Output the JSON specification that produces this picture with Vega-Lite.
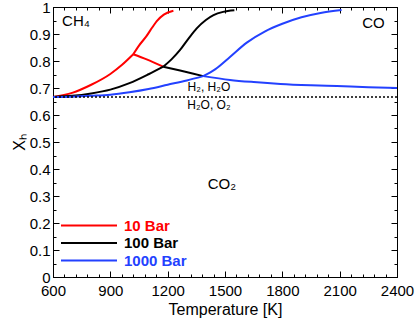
{
  "$schema": "https://vega.github.io/schema/vega-lite/v6.json",
  "width": 344,
  "height": 270,
  "autosize": {"type": "none"},
  "padding": {"left": 53, "top": 7, "right": 18, "bottom": 42},
  "background": "white",
  "config": {
    "view": {"stroke": "#000", "strokeWidth": 1},
    "font": "Liberation Sans",
    "axis": {
      "domainColor": "#000", "tickColor": "#000", "labelColor": "#000", "titleColor": "#000",
      "labelFont": "Liberation Sans", "titleFont": "Liberation Sans",
      "labelFontSize": 15, "titleFontSize": 16, "titleFontWeight": "normal", "grid": false,
      "labelFlush": false
    }
  },
  "datasets": {
    "curves": [
      {"seg": "r1", "p": "10 Bar", "T": 600, "X": 0.667},
      {"seg": "r1", "p": "10 Bar", "T": 700, "X": 0.682},
      {"seg": "r1", "p": "10 Bar", "T": 800, "X": 0.712},
      {"seg": "r1", "p": "10 Bar", "T": 900, "X": 0.752},
      {"seg": "r1", "p": "10 Bar", "T": 960, "X": 0.785},
      {"seg": "r1", "p": "10 Bar", "T": 1020, "X": 0.825},
      {"seg": "r1u", "p": "10 Bar", "T": 1020, "X": 0.825},
      {"seg": "r1u", "p": "10 Bar", "T": 1050, "X": 0.857},
      {"seg": "r1u", "p": "10 Bar", "T": 1090, "X": 0.893},
      {"seg": "r1u", "p": "10 Bar", "T": 1120, "X": 0.925},
      {"seg": "r1u", "p": "10 Bar", "T": 1143, "X": 0.948},
      {"seg": "r1u", "p": "10 Bar", "T": 1180, "X": 0.972},
      {"seg": "r1u", "p": "10 Bar", "T": 1230, "X": 0.986},
      {"seg": "r2", "p": "10 Bar", "T": 1020, "X": 0.825},
      {"seg": "r2", "p": "10 Bar", "T": 1090, "X": 0.806},
      {"seg": "r2", "p": "10 Bar", "T": 1177, "X": 0.779},
      {"seg": "k1", "p": "100 Bar", "T": 600, "X": 0.667},
      {"seg": "k1", "p": "100 Bar", "T": 700, "X": 0.671},
      {"seg": "k1", "p": "100 Bar", "T": 800, "X": 0.680},
      {"seg": "k1", "p": "100 Bar", "T": 900, "X": 0.694},
      {"seg": "k1", "p": "100 Bar", "T": 1000, "X": 0.718},
      {"seg": "k1", "p": "100 Bar", "T": 1100, "X": 0.751},
      {"seg": "k1", "p": "100 Bar", "T": 1177, "X": 0.779},
      {"seg": "k1u", "p": "100 Bar", "T": 1177, "X": 0.779},
      {"seg": "k1u", "p": "100 Bar", "T": 1220, "X": 0.806},
      {"seg": "k1u", "p": "100 Bar", "T": 1265, "X": 0.841},
      {"seg": "k1u", "p": "100 Bar", "T": 1310, "X": 0.884},
      {"seg": "k1u", "p": "100 Bar", "T": 1352, "X": 0.921},
      {"seg": "k1u", "p": "100 Bar", "T": 1400, "X": 0.952},
      {"seg": "k1u", "p": "100 Bar", "T": 1440, "X": 0.970},
      {"seg": "k1u", "p": "100 Bar", "T": 1490, "X": 0.982},
      {"seg": "k1u", "p": "100 Bar", "T": 1549, "X": 0.988},
      {"seg": "k2", "p": "100 Bar", "T": 1177, "X": 0.779},
      {"seg": "k2", "p": "100 Bar", "T": 1265, "X": 0.765},
      {"seg": "k2", "p": "100 Bar", "T": 1330, "X": 0.754},
      {"seg": "k2", "p": "100 Bar", "T": 1386, "X": 0.744},
      {"seg": "b1", "p": "1000 Bar", "T": 600, "X": 0.667},
      {"seg": "b1", "p": "1000 Bar", "T": 700, "X": 0.668},
      {"seg": "b1", "p": "1000 Bar", "T": 800, "X": 0.671},
      {"seg": "b1", "p": "1000 Bar", "T": 900, "X": 0.675},
      {"seg": "b1", "p": "1000 Bar", "T": 1000, "X": 0.684},
      {"seg": "b1", "p": "1000 Bar", "T": 1100, "X": 0.696},
      {"seg": "b1", "p": "1000 Bar", "T": 1200, "X": 0.712},
      {"seg": "b1", "p": "1000 Bar", "T": 1300, "X": 0.728},
      {"seg": "b1", "p": "1000 Bar", "T": 1386, "X": 0.744},
      {"seg": "b1u", "p": "1000 Bar", "T": 1386, "X": 0.744},
      {"seg": "b1u", "p": "1000 Bar", "T": 1450, "X": 0.770},
      {"seg": "b1u", "p": "1000 Bar", "T": 1526, "X": 0.815},
      {"seg": "b1u", "p": "1000 Bar", "T": 1614, "X": 0.868},
      {"seg": "b1u", "p": "1000 Bar", "T": 1710, "X": 0.910},
      {"seg": "b1u", "p": "1000 Bar", "T": 1800, "X": 0.938},
      {"seg": "b1u", "p": "1000 Bar", "T": 1900, "X": 0.962},
      {"seg": "b1u", "p": "1000 Bar", "T": 2000, "X": 0.978},
      {"seg": "b1u", "p": "1000 Bar", "T": 2110, "X": 0.989},
      {"seg": "b2", "p": "1000 Bar", "T": 1386, "X": 0.744},
      {"seg": "b2", "p": "1000 Bar", "T": 1526, "X": 0.730},
      {"seg": "b2", "p": "1000 Bar", "T": 1650, "X": 0.722},
      {"seg": "b2", "p": "1000 Bar", "T": 1790, "X": 0.715},
      {"seg": "b2", "p": "1000 Bar", "T": 1950, "X": 0.710},
      {"seg": "b2", "p": "1000 Bar", "T": 2085, "X": 0.707},
      {"seg": "b2", "p": "1000 Bar", "T": 2250, "X": 0.703},
      {"seg": "b2", "p": "1000 Bar", "T": 2400, "X": 0.700}
    ],
    "bigLabels": [
      {"T": 720, "X": 0.948, "t": "CH₄"},
      {"T": 2277, "X": 0.94, "t": "CO"},
      {"T": 1484, "X": 0.344, "t": "CO₂"}
    ],
    "smallLabels": [
      {"T": 1416, "X": 0.705, "t": "H₂, H₂O"},
      {"T": 1416, "X": 0.637, "t": "H₂O, O₂"}
    ],
    "ref": [{"X": 0.6667}]
  },
  "layer": [
    {
      "data": {"name": "curves"},
      "mark": {"type": "line", "strokeWidth": 2, "interpolate": "monotone"},
      "encoding": {
        "x": {
          "field": "T", "type": "quantitative",
          "scale": {"domain": [600, 2400], "nice": false, "zero": false},
          "axis": {
            "orient": "bottom",
            "values": [600,660,720,780,840,900,960,1020,1080,1140,1200,1260,1320,1380,1440,1500,1560,1620,1680,1740,1800,1860,1920,1980,2040,2100,2160,2220,2280,2340,2400],
            "labelExpr": "datum.value % 300 === 0 ? toString(datum.value) : ''",
            "tickSize": {"condition": {"test": "datum.value % 300 === 0", "value": -6}, "value": -3},
            "labelPadding": 12,
            "labelFlush": false,
            "title": "Temperature [K]",
            "titlePadding": 3
          }
        },
        "y": {
          "field": "X", "type": "quantitative",
          "scale": {"domain": [0, 1], "nice": false},
          "axis": {
            "orient": "left",
            "values": [0,0.05,0.1,0.15,0.2,0.25,0.3,0.35,0.4,0.45,0.5,0.55,0.6,0.65,0.7,0.75,0.8,0.85,0.9,0.95,1],
            "labelExpr": "round(datum.value*100) % 10 === 0 ? toString(round(datum.value*10)/10) : ''",
            "tickSize": {"condition": {"test": "round(datum.value*100) % 10 === 0", "value": -6}, "value": -3},
            "labelPadding": 9,
            "labelFlush": false,
            "title": "Xₕ",
            "titlePadding": 2
          }
        },
        "color": {
          "field": "p", "type": "nominal",
          "scale": {"domain": ["10 Bar", "100 Bar", "1000 Bar"], "range": ["#ff0000", "#000000", "#2341ff"]},
          "legend": {
            "orient": "none", "legendX": 7, "legendY": 210, "title": null,
            "symbolType": "stroke", "symbolSize": 3136, "symbolStrokeWidth": 2,
            "clipHeight": 17,
            "labelFont": "Liberation Sans", "labelFontSize": 15, "labelFontWeight": "bold",
            "labelOffset": 6, "rowPadding": 0.5,
            "labelColor": {"expr": "datum.label === '10 Bar' ? '#ff0000' : datum.label === '100 Bar' ? '#000000' : '#2341ff'"}
          }
        },
        "detail": {"field": "seg"}
      }
    },
    {
      "data": {"name": "ref"},
      "mark": {"type": "rule", "strokeDash": [2, 2], "strokeWidth": 1.5, "color": "#000"},
      "encoding": {
        "y": {"field": "X", "type": "quantitative", "axis": null}
      }
    },
    {
      "data": {"name": "bigLabels"},
      "mark": {"type": "text", "fontSize": 15, "font": "Liberation Sans", "color": "#000"},
      "encoding": {
        "x": {
          "field": "T", "type": "quantitative",
          "axis": {
            "orient": "top", "labels": false, "title": null,
            "values": [600,660,720,780,840,900,960,1020,1080,1140,1200,1260,1320,1380,1440,1500,1560,1620,1680,1740,1800,1860,1920,1980,2040,2100,2160,2220,2280,2340,2400],
            "tickSize": {"condition": {"test": "datum.value % 300 === 0", "value": -6}, "value": -3}
          }
        },
        "y": {
          "field": "X", "type": "quantitative",
          "axis": {
            "orient": "right", "labels": false, "title": null,
            "values": [0,0.05,0.1,0.15,0.2,0.25,0.3,0.35,0.4,0.45,0.5,0.55,0.6,0.65,0.7,0.75,0.8,0.85,0.9,0.95,1],
            "tickSize": {"condition": {"test": "round(datum.value*100) % 10 === 0", "value": -6}, "value": -3}
          }
        },
        "text": {"field": "t"}
      }
    },
    {
      "data": {"name": "smallLabels"},
      "mark": {"type": "text", "fontSize": 12, "font": "Liberation Sans", "color": "#000"},
      "encoding": {
        "x": {"field": "T", "type": "quantitative", "axis": null},
        "y": {"field": "X", "type": "quantitative", "axis": null},
        "text": {"field": "t"}
      }
    }
  ],
  "resolve": {"axis": {"x": "independent", "y": "independent"}}
}
